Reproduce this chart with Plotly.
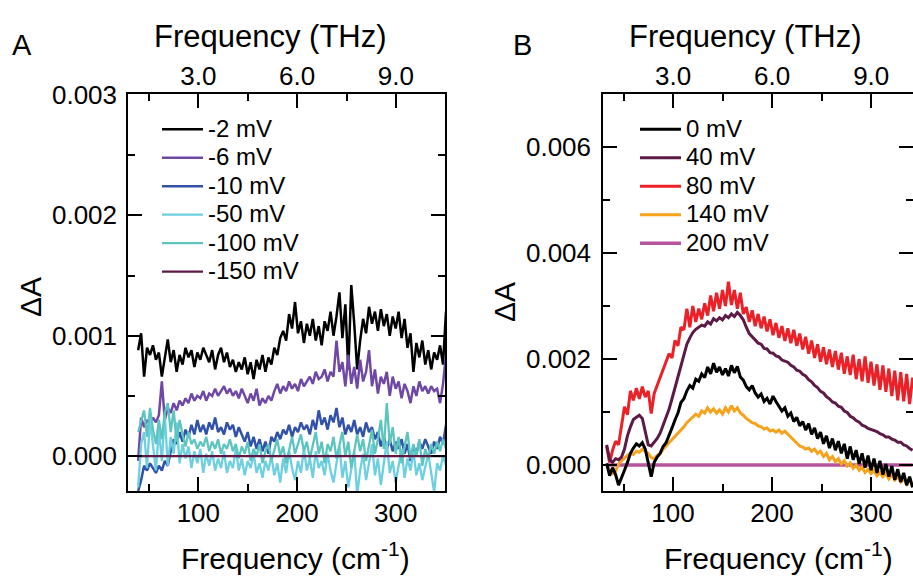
import numpy as np
import plotly.graph_objects as go

FONT = "Liberation Sans, Arial, Helvetica, sans-serif"
W, H = 913, 576
CM_PER_THZ = 33.356

# ---------------- data (ΔA values in units of 1e-3) ----------------
freq_a = np.arange(39, 352, 3)      # cm^-1, panel A
freq_b = np.arange(33, 343, 3)      # cm^-1, panel B

labels_a = ["-2 mV", "-6 mV", "-10 mV", "-50 mV", "-100 mV", "-150 mV"]
colors_a = ["#000000", "#6f48a6", "#3152a8", "#6dcfe0", "#5cc5c0", "#5e1847"]

dA_m2 = [0.88, 1.02, 0.66, 0.90, 0.84, 0.92, 0.80, 0.86, 0.66, 0.82,
         0.97, 0.78, 0.88, 0.70, 0.84, 0.76, 0.90, 0.82, 0.88, 0.74,
         0.86, 0.80, 0.90, 0.84, 0.78, 0.88, 0.72, 0.84, 0.90, 0.78,
         0.86, 0.74, 0.80, 0.70, 0.78, 0.72, 0.82, 0.68, 0.78, 0.64,
         0.80, 0.72, 0.84, 0.70, 0.82, 0.76, 0.90, 0.84, 0.98, 1.04,
         0.96, 1.18, 1.06, 1.28, 1.02, 1.12, 0.94, 1.10, 1.00, 1.14,
         0.96, 1.08, 0.92, 1.12, 1.04, 1.20, 1.00, 1.16, 1.36, 0.98,
         1.26, 0.72, 1.42, 1.10, 0.72, 0.96, 1.14, 1.02, 1.24, 1.10,
         1.20, 1.04, 1.22, 1.08, 1.18, 1.00, 1.16, 1.06, 1.20, 0.98,
         1.14, 0.90, 1.02, 0.70, 0.94, 0.82, 0.96, 0.76, 0.88, 0.72,
         0.86, 0.80, 0.92, 0.76, 1.20]
dA_m6 = [-0.04, 0.32, 0.24, 0.30, 0.26, 0.32, 0.28, 0.34, 0.62, 0.30,
         0.40, 0.36, 0.44, 0.38, 0.46, 0.42, 0.48, 0.44, 0.52, 0.46,
         0.50, 0.48, 0.54, 0.46, 0.52, 0.50, 0.56, 0.50, 0.54, 0.58,
         0.52, 0.56, 0.50, 0.54, 0.48, 0.56, 0.50, 0.44, 0.52, 0.46,
         0.56, 0.42, 0.48, 0.44, 0.50, 0.46, 0.54, 0.60, 0.52, 0.58,
         0.54, 0.62, 0.56, 0.60, 0.54, 0.64, 0.58, 0.62, 0.66, 0.60,
         0.70, 0.64, 0.66, 0.72, 0.62, 0.70, 0.66, 0.96, 0.70, 0.78,
         0.58, 0.84, 0.60, 0.74, 0.56, 0.80, 0.62, 0.70, 0.88, 0.58,
         0.72, 0.52, 0.66, 0.60, 0.70, 0.50, 0.66, 0.56, 0.62, 0.48,
         0.60, 0.54, 0.44, 0.58, 0.50, 0.62, 0.54, 0.58, 0.52, 0.58,
         0.54, 0.56, 0.44, 0.60, 0.84]
dA_m10 = [-0.29, -0.20, -0.08, -0.12, -0.06, -0.10, -0.14, -0.08, -0.12, -0.04,
          -0.08, 0.04, 0.14, 0.10, 0.20, 0.12, 0.22, 0.16, 0.26, 0.18,
          0.30, 0.20, 0.26, 0.18, 0.28, 0.22, 0.32, 0.20, 0.24, 0.18,
          0.28, 0.22, 0.26, 0.16, 0.24, 0.18, 0.12, 0.20, 0.08, 0.16,
          0.06, 0.14, 0.04, 0.12, 0.02, 0.16, 0.12, 0.20, 0.14, 0.22,
          0.18, 0.26, 0.16, 0.24, 0.20, 0.28, 0.22, 0.26, 0.18, 0.30,
          0.22, 0.38, 0.26, 0.32, 0.22, 0.34, 0.28, 0.40, 0.24, 0.32,
          0.18, 0.26, 0.20, 0.30, 0.18, 0.24, 0.16, 0.28, 0.20, 0.24,
          0.14, 0.20, 0.08, 0.16, 0.06, 0.14, 0.04, 0.12, 0.06, 0.14,
          0.02, 0.10, -0.04, 0.08, 0.02, 0.12, 0.06, 0.14, 0.08, 0.02,
          0.12, 0.06, 0.16, 0.10, 0.26]
dA_m50 = [-0.26, 0.10, 0.20, -0.10, 0.30, 0.06, -0.12, 0.22, -0.04, 0.34,
          -0.08, 0.16, 0.02, 0.28, -0.06, 0.10, -0.02, 0.08, -0.10, 0.04,
          -0.06, 0.06, -0.14, 0.02, -0.08, 0.04, -0.12, -0.02, -0.10, 0.04,
          -0.14, -0.04, -0.10, 0.06, -0.12, -0.02, -0.16, -0.04, -0.10, 0.02,
          -0.14, -0.06, -0.18, -0.04, -0.12, 0.00, -0.16, -0.06, -0.22, -0.02,
          -0.14, 0.04, -0.10, -0.20, -0.04, -0.14, 0.06, -0.12, -0.02, -0.18,
          0.04, -0.10, -0.04, -0.16, 0.02, -0.12, -0.22, -0.06, 0.08, -0.18,
          -0.04, -0.26, -0.10, 0.04, -0.32, -0.12, 0.02, -0.20, -0.06, 0.10,
          -0.16, -0.02, -0.24, -0.08, 0.12, -0.14, -0.04, -0.22, -0.08, 0.06,
          -0.18, -0.02, -0.12, 0.04, -0.16, -0.06, -0.20, -0.08, 0.02, -0.14,
          -0.30, -0.06, -0.12, 0.00, -0.08]
dA_m100 = [0.20, 0.30, 0.38, 0.16, 0.40, 0.22, 0.10, 0.30, 0.14, 0.36,
           0.44, 0.20, 0.38, 0.12, 0.30, 0.18, 0.08, 0.20, 0.10, 0.14,
           0.06, 0.12, 0.08, 0.16, 0.04, 0.12, 0.06, 0.14, 0.02, 0.10,
           0.06, 0.14, 0.04, 0.10, -0.02, 0.08, 0.02, 0.12, -0.04, 0.06,
           0.00, 0.10, -0.06, 0.04, 0.10, -0.04, 0.06, 0.14, 0.00, 0.08,
           -0.06, 0.04, 0.16, 0.02, 0.10, 0.18, 0.04, 0.12, -0.02, 0.08,
           0.20, 0.02, 0.12, -0.06, 0.10, 0.04, 0.16, -0.02, 0.08, 0.20,
           0.00, 0.12, -0.10, 0.06, 0.18, 0.04, 0.14, -0.04, 0.10, 0.22,
           0.02, 0.14, 0.30, 0.06, 0.44, 0.10, 0.24, 0.02, 0.16, -0.06,
           0.08, 0.20, -0.02, 0.10, 0.00, 0.14, -0.08, 0.06, -0.02, 0.10,
           0.02, 0.12, 0.04, 0.14, 0.06]
freq_m150 = [39, 351]
dA_m150 = [0.0, 0.0]

labels_b = ["0 mV", "40 mV", "80 mV", "140 mV", "200 mV"]
colors_b = ["#000000", "#5e1a46", "#ec2128", "#f7a21b", "#b6559e"]

dA_0 = [0.03, -0.20, -0.05, -0.18, -0.38, -0.22, -0.10, 0.05, 0.22, 0.32,
        0.40, 0.36, 0.42, 0.30, 0.05, -0.22, 0.05, 0.15, 0.22, 0.35,
        0.42, 0.58, 0.70, 0.85, 0.98, 1.18, 1.25, 1.40, 1.50, 1.45,
        1.62, 1.58, 1.72, 1.65, 1.85, 1.72, 1.92, 1.75, 1.85, 1.70,
        1.82, 1.68, 1.88, 1.74, 1.86, 1.66, 1.60, 1.48, 1.42, 1.50,
        1.36, 1.28, 1.34, 1.20, 1.26, 1.15, 1.30, 1.20, 1.10, 1.02,
        1.08, 0.92, 0.98, 0.82, 0.90, 0.74, 0.82, 0.66, 0.78, 0.58,
        0.70, 0.50, 0.62, 0.40, 0.55, 0.32, 0.50, 0.28, 0.45, 0.22,
        0.40, 0.12, 0.35, 0.10, 0.28, 0.02, 0.22, -0.05, 0.18, -0.10,
        0.12, -0.15, 0.08, -0.18, 0.02, -0.22, -0.02, -0.28, -0.08, -0.32,
        -0.15, -0.38, -0.22, -0.42]
dA_40 = [0.38, 0.10, 0.05, 0.12, 0.10, 0.15, 0.30, 0.55, 0.72, 0.86,
         0.90, 0.94, 0.88, 0.62, 0.38, 0.36, 0.42, 0.50, 0.60, 0.74,
         0.88, 1.05, 1.25, 1.45, 1.65, 1.85, 2.08, 2.28, 2.40, 2.50,
         2.56, 2.60, 2.64, 2.62, 2.70, 2.66, 2.76, 2.72, 2.78, 2.74,
         2.82, 2.78, 2.85, 2.80, 2.88, 2.82, 2.74, 2.60, 2.48, 2.42,
         2.35, 2.30, 2.28, 2.20, 2.19, 2.12, 2.11, 2.06, 2.04, 1.98,
         1.96, 1.94, 1.88, 1.85, 1.79, 1.77, 1.71, 1.68, 1.61, 1.57,
         1.50, 1.46, 1.39, 1.36, 1.29, 1.25, 1.19, 1.17, 1.11, 1.09,
         1.02, 0.99, 0.92, 0.89, 0.84, 0.81, 0.75, 0.73, 0.69, 0.67,
         0.64, 0.63, 0.59, 0.57, 0.53, 0.53, 0.49, 0.47, 0.43, 0.43,
         0.38, 0.36, 0.31, 0.28]
dA_80 = [0.35, 0.05, 0.28, 0.45, 0.38, 0.70, 1.10, 0.95, 1.40, 1.22,
         1.45, 1.25, 1.48, 1.28, 1.40, 0.97, 1.35, 1.50, 1.65, 1.80,
         1.95, 2.10, 2.02, 2.35, 2.25, 2.60, 2.55, 2.95, 2.60, 3.00,
         2.70, 2.95, 2.75, 3.05, 2.82, 3.20, 2.90, 3.25, 2.95, 3.30,
         3.00, 3.46, 3.02, 3.30, 2.95, 3.25, 2.85, 2.98, 2.70, 2.92,
         2.62, 2.85, 2.58, 2.80, 2.52, 2.75, 2.45, 2.68, 2.40, 2.62,
         2.34, 2.58, 2.30, 2.55, 2.25, 2.48, 2.18, 2.42, 2.10, 2.35,
         2.02, 2.28, 1.95, 2.22, 1.90, 2.18, 1.85, 2.15, 1.80, 2.12,
         1.72, 2.05, 1.70, 2.08, 1.62, 2.00, 1.58, 2.05, 1.55, 1.95,
         1.50, 1.90, 1.42, 1.88, 1.38, 1.82, 1.30, 1.78, 1.22, 1.75,
         1.20, 1.72, 1.15, 1.65]
dA_140 = [-0.02, -0.10, -0.16, -0.12, 0.02, 0.08, 0.14, 0.18, 0.22, 0.20,
          0.26, 0.24, 0.30, 0.26, 0.22, 0.14, 0.12, 0.18, 0.22, 0.30,
          0.36, 0.40, 0.48, 0.52, 0.58, 0.66, 0.72, 0.80, 0.86, 0.90,
          0.96, 0.92, 1.02, 0.98, 1.08, 1.00, 1.06, 0.98, 1.04, 0.96,
          1.08, 1.00, 1.12, 1.02, 1.08, 0.98, 0.94, 0.88, 0.84, 0.80,
          0.78, 0.74, 0.72, 0.68, 0.70, 0.64, 0.66, 0.62, 0.66, 0.60,
          0.64, 0.58, 0.54, 0.46, 0.42, 0.36, 0.34, 0.30, 0.32, 0.26,
          0.30, 0.22, 0.26, 0.16, 0.22, 0.10, 0.16, 0.06, 0.12, 0.02,
          0.08, -0.02, 0.04, -0.06, 0.00, -0.10, -0.04, -0.14, -0.08, -0.16,
          -0.10, -0.20, -0.14, -0.22, -0.16, -0.26, -0.18, -0.28, -0.22, -0.32,
          -0.26, -0.36, -0.28, -0.40]
freq_200 = [33, 342]
dA_200 = [0.0, 0.0]

thz_major = [3.0, 6.0, 9.0]
thz_minor = [1.5, 4.5, 7.5, 10.5]
cm_major = [100, 200, 300]
cm_minor = [50, 150, 250, 350]
ya_ticks = [0.000, 0.001, 0.002, 0.003]
yb_ticks = [0.000, 0.002, 0.004, 0.006]

# ---------------- figure ----------------
fig = go.Figure()

def px_x(p):
    return p / W

def px_y(p):
    return 1 - p / H

def leg_name(s):
    # legend text drawn a bit larger than the legend's row spacing font
    return f'<span style="font-size:24px">{s}</span>'

series_a = [dA_m2, dA_m6, dA_m10, dA_m50, dA_m100]
widths_a = [2.5, 2.5, 2.5, 2.3, 2.3]
for lab, col, vals, lw in zip(labels_a[:5], colors_a[:5], series_a, widths_a):
    fig.add_trace(go.Scatter(x=freq_a[:len(vals)], y=np.array(vals) * 1e-3, mode="lines",
                             name=leg_name(lab), line=dict(color=col, width=lw),
                             xaxis="x", yaxis="y", legend="legend"))
fig.add_trace(go.Scatter(x=freq_m150, y=np.array(dA_m150) * 1e-3, mode="lines",
                         name=leg_name(labels_a[5]), line=dict(color=colors_a[5], width=2.2),
                         xaxis="x", yaxis="y", legend="legend"))

# panel B: draw order chosen so black lies on top, legend order kept by legendrank
fig.add_trace(go.Scatter(x=freq_200, y=np.array(dA_200) * 1e-3, mode="lines",
                         name=leg_name(labels_b[4]), line=dict(color=colors_b[4], width=3.5),
                         xaxis="x2", yaxis="y2", legend="legend2", legendrank=5))
order_b = [(3, dA_140), (2, dA_80), (1, dA_40), (0, dA_0)]
for idx, vals in order_b:
    fig.add_trace(go.Scatter(x=freq_b[:len(vals)], y=np.array(vals) * 1e-3, mode="lines",
                             name=leg_name(labels_b[idx]), line=dict(color=colors_b[idx], width=3),
                             xaxis="x2", yaxis="y2", legend="legend2", legendrank=idx + 1))

# invisible traces binding the top (THz) axes
fig.add_trace(go.Scatter(x=[None], y=[None], xaxis="x3", yaxis="y", showlegend=False, hoverinfo="skip"))
fig.add_trace(go.Scatter(x=[None], y=[None], xaxis="x4", yaxis="y2", showlegend=False, hoverinfo="skip"))

tickfont = dict(family=FONT, size=26, color="black")
base = dict(showline=True, linecolor="black", linewidth=1.5, ticks="inside", ticklen=14,
            tickwidth=1.5, tickcolor="black", showgrid=False, zeroline=False, tickfont=tickfont,
            automargin=False)
minor = dict(ticks="inside", ticklen=7, tickwidth=1.5, tickcolor="black", showgrid=False)

xa_range = [28.7, 350]
xb_range = [29.3, 342.4]
dom_a = [px_x(128), px_x(445)]
dom_b = [px_x(603), 1.0]
dom_y = [px_y(491), px_y(94)]

leg_common = dict(xanchor="left", yanchor="top", font=dict(family=FONT, size=19.6, color="black"),
                  bgcolor="rgba(0,0,0,0)", itemwidth=41, traceorder="normal")

fig.update_layout(
    width=W, height=H, margin=dict(l=0, r=0, t=0, b=0, pad=0, autoexpand=False),
    paper_bgcolor="white", plot_bgcolor="white",
    font=dict(family=FONT, color="black"),
    xaxis=dict(base, domain=dom_a, range=xa_range, anchor="y", side="bottom",
               tickvals=cm_major, ticktext=[str(v) for v in cm_major],
               minor=dict(minor, tickvals=cm_minor), ticklabelstandoff=-2),
    yaxis=dict(base, domain=dom_y, range=[-0.00029, 0.003008], anchor="x", mirror="ticks",
               tickvals=ya_ticks, ticktext=[f"{v:.3f}" for v in ya_ticks],
               minor=dict(minor, dtick=0.0005, tick0=0), ticklabelstandoff=4),
    xaxis2=dict(base, domain=dom_b, range=xb_range, anchor="y2", side="bottom",
                tickvals=cm_major, ticktext=[str(v) for v in cm_major],
                minor=dict(minor, tickvals=cm_minor), ticklabelstandoff=-2),
    yaxis2=dict(base, domain=dom_y, range=[-0.00049, 0.0070], anchor="x2", mirror="ticks",
                tickvals=yb_ticks, ticktext=[f"{v:.3f}" for v in yb_ticks],
                minor=dict(minor, dtick=0.001, tick0=0), ticklabelstandoff=5),
    xaxis3=dict(base, overlaying="x", anchor="y", side="top", range=xa_range,
                tickvals=[t * CM_PER_THZ for t in thz_major], ticktext=[f"{t:.1f}" for t in thz_major],
                minor=dict(minor, tickvals=[t * CM_PER_THZ for t in thz_minor]), ticklabelstandoff=-3),
    xaxis4=dict(base, overlaying="x2", anchor="y2", side="top", range=xb_range,
                tickvals=[t * CM_PER_THZ for t in thz_major], ticktext=[f"{t:.1f}" for t in thz_major],
                minor=dict(minor, tickvals=[t * CM_PER_THZ for t in thz_minor]), ticklabelstandoff=-3),
    legend=dict(leg_common, x=px_x(157), y=px_y(110)),
    legend2=dict(leg_common, x=px_x(635), y=px_y(110)),
    showlegend=True,
)

title_font = dict(family=FONT, size=30, color="black")
ann = [
    dict(text="A", x=px_x(22), y=px_y(45), font=dict(family=FONT, size=29, color="black")),
    dict(text="B", x=px_x(522), y=px_y(45), font=dict(family=FONT, size=29, color="black")),
    dict(text="Frequency (THz)", x=px_x(270), y=px_y(36), font=dict(title_font, size=31)),
    dict(text="Frequency (THz)", x=px_x(745), y=px_y(36), font=dict(title_font, size=31)),
    dict(text="Frequency (cm<sup>-1</sup>)", x=px_x(295), y=px_y(556), font=title_font),
    dict(text="Frequency (cm<sup>-1</sup>)", x=px_x(778), y=px_y(556), font=title_font),
    dict(text="ΔA", x=px_x(30), y=px_y(297), textangle=-90, font=title_font),
    dict(text="ΔA", x=px_x(504), y=px_y(302), textangle=-90, font=title_font),
]
for a in ann:
    fig.add_annotation(xref="paper", yref="paper", showarrow=False,
                       xanchor="center", yanchor="middle", **a)

fig.write_html("out.html", config={"displayModeBar": False},
               post_script="document.body.style.margin='0px';")
